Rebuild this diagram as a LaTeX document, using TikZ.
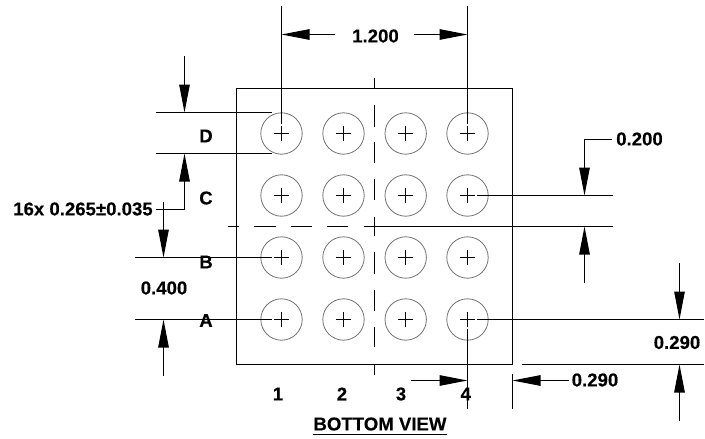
\documentclass[tikz,border=0pt]{standalone}
\usepackage{fontspec}
\setmainfont[BoldFeatures={FakeBold=0.25}]{Liberation Sans}
\usetikzlibrary{arrows.meta}
\tikzset{
  line/.style={line width=1.05pt,black},
  thin line/.style={line width=0.8pt,black},
  dim/.style={line,-{Triangle[length=28pt,width=10.5pt]}},
  lab/.style={inner sep=0pt,font=\fontsize{18.6}{20}\selectfont\bfseries},
  ball/.style={circle,draw=black!55,line width=0.8pt,minimum size=41.4pt,inner sep=0pt},
}
\begin{document}
\begin{tikzpicture}[x=1pt,y=-1pt]
\useasboundingbox (0,0) rectangle (705,439);
% package outline
\node[draw=black,line width=1.05pt,minimum width=276pt,minimum height=276pt,inner sep=0pt] (pkg) at (374.5,226.5) {};
% balls
\foreach \cx/\c in {281.5/1,343.5/2,405.7/3,467.5/4}
  \foreach \cy/\r in {133.5/D,195.5/C,257.5/B,319.5/A} {
    \node[ball] (b\r\c) at (\cx,\cy) {};
    \draw[thin line] (\cx-7.5,\cy) -- (\cx+7.5,\cy) (\cx,\cy-7.5) -- (\cx,\cy+7.5);
  }
% centre lines
\foreach \a/\b in {78/89,105/127,142/163,179/200,217/236,252/274,290/311,327/347,365/375}
  \draw[thin line] (374.5,\a) -- (374.5,\b);
\foreach \a/\b in {228/239,254/276,291/312,327/348}
  \draw[thin line] (\a,226.5) -- (\b,226.5);
% labels
\node[lab] (rowD) at (206,136) {D};
\node[lab] (rowC) at (206,198) {C};
\node[lab] (rowB) at (206,262) {B};
\node[lab] (rowA) at (206,320.5) {A};
\node[lab] (col1) at (278,394) {1};
\node[lab] (col2) at (342,394) {2};
\node[lab] (col3) at (401,394) {3};
\node[lab] (col4) at (465.7,394) {4};
\node[lab] (d1200) at (375.5,36) {1.200};
\node[lab] (d0200) at (639.5,139) {0.200};
\node[lab] (d0400) at (164,288) {0.400};
\node[lab] (d0265) at (83,209) {16x 0.265±0.035};
\node[lab] (d0290r) at (677,342.5) {0.290};
\node[lab] (d0290b) at (595,380) {0.290};
\node[lab] (title) at (380,424) {BOTTOM VIEW};
\draw[line width=1.5pt] (title.west |- 0,434.7) coordinate (ul1) -- (title.east |- 0,434.7) coordinate (ul2);
% 1.200 dimension
\coordinate (e1t) at (281.5,6); \coordinate (e1b) at (281.5,124);
\coordinate (e4t) at (467.5,6); \coordinate (e4b) at (467.5,124);
\draw[line] (e1t) -- (e1b); \draw[line] (e4t) -- (e4b);
\coordinate (a1) at (335,34.5); \coordinate (a1t) at (281.5,34.5);
\coordinate (a2) at (414,34.5); \coordinate (a2t) at (467.5,34.5);
\draw[dim] (a1) -- (a1t); \draw[dim] (a2) -- (a2t);
% 0.265 dimension
\coordinate (dl1) at (156,112.5); \coordinate (dr1) at (272,112.5);
\coordinate (dl2) at (156,153.5); \coordinate (dr2) at (272,153.5);
\draw[line] (dl1) -- (dr1); \draw[line] (dl2) -- (dr2);
\coordinate (t1) at (184.5,56); \coordinate (t1h) at (184.5,112.5);
\coordinate (t2) at (156,209.5); \coordinate (t2k) at (184.5,209.5); \coordinate (t2h) at (184.5,153.5);
\draw[dim] (t1) -- (t1h);
\draw[dim] (t2) -- (t2k) -- (t2h);
% 0.400 dimension
\coordinate (bl) at (135,257.5); \coordinate (br) at (272,257.5);
\coordinate (al) at (135,319.5); \coordinate (ar) at (272,319.5);
\draw[line] (bl) -- (br); \draw[line] (al) -- (ar);
\coordinate (f1) at (163.5,202); \coordinate (f1h) at (163.5,257.5);
\coordinate (f2) at (163.5,375.5); \coordinate (f2h) at (163.5,319.5);
\draw[dim] (f1) -- (f1h); \draw[dim] (f2) -- (f2h);
% 0.200 dimension
\coordinate (c1) at (477,195.5); \coordinate (c2) at (612.7,195.5);
\coordinate (c3) at (364,226.5); \coordinate (c4) at (612.7,226.5);
\draw[line] (c1) -- (c2); \draw[line] (c3) -- (c4);
\coordinate (g1) at (612,139.5); \coordinate (g1k) at (584.5,139.5); \coordinate (g1h) at (584.5,195.5);
\coordinate (g2) at (584.5,282.5); \coordinate (g2h) at (584.5,226.5);
\draw[dim] (g1) -- (g1k) -- (g1h); \draw[dim] (g2) -- (g2h);
% 0.290 right
\coordinate (h1) at (477,319.5); \coordinate (h2) at (704,319.5);
\coordinate (h3) at (522,364.5); \coordinate (h4) at (704,364.5);
\draw[line] (h1) -- (h2); \draw[line] (h3) -- (h4);
\coordinate (j1) at (679.5,263); \coordinate (j1h) at (679.5,319.5);
\coordinate (j2) at (679.5,420.7); \coordinate (j2h) at (679.5,364.5);
\draw[dim] (j1) -- (j1h); \draw[dim] (j2) -- (j2h);
% 0.290 bottom
\coordinate (v1) at (467.5,329); \coordinate (v2) at (467.5,409);
\coordinate (v3) at (512.5,374); \coordinate (v4) at (512.5,409);
\draw[line] (v1) -- (v2); \draw[line] (v3) -- (v4);
\coordinate (k1) at (411,380.5); \coordinate (k1h) at (467.5,380.5);
\coordinate (k2) at (568.7,380.5); \coordinate (k2h) at (512.5,380.5);
\draw[dim] (k1) -- (k1h); \draw[dim] (k2) -- (k2h);
\end{tikzpicture}
\end{document}
